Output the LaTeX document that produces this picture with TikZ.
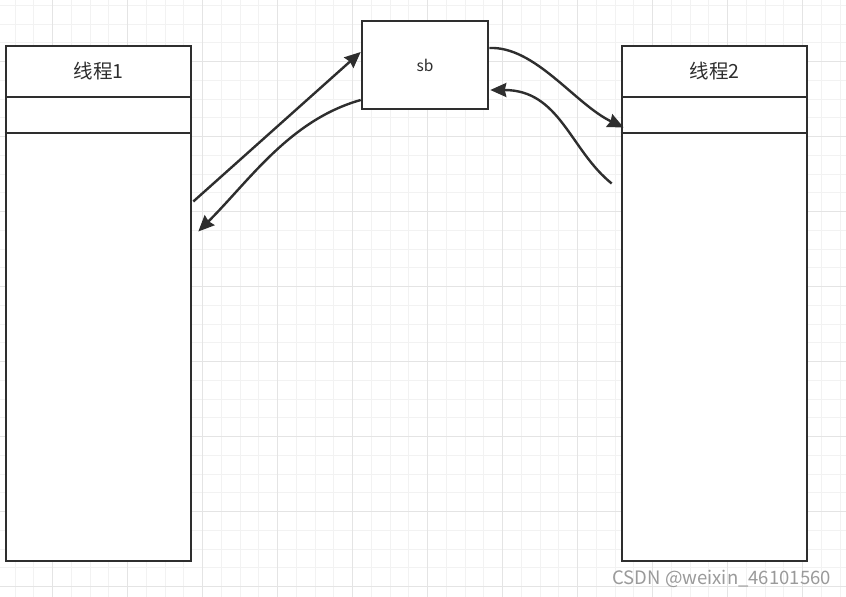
\documentclass[tikz,border=0pt]{standalone}
\usepackage{fontspec}
\newfontfamily\cjk{Noto Sans CJK SC}
\usetikzlibrary{arrows.meta,calc}
\definecolor{ink}{HTML}{2E2E2E}
\definecolor{gridminor}{HTML}{F2F2F2}
\definecolor{gridmajor}{HTML}{E4E4E4}
\definecolor{wm}{HTML}{9A9A9A}
\tikzset{
  thread/.style={draw=ink, line width=2.6pt, fill=white, minimum width=185pt, minimum height=515pt, inner sep=0pt},
  headrow/.style={draw=ink, line width=2.6pt, minimum width=185pt, minimum height=51pt, inner sep=0pt, font=\cjk\fontsize{19.5}{22}\selectfont, text=ink},
  sbbox/.style={draw=ink, line width=2.6pt, fill=white, minimum width=126pt, minimum height=88pt, inner sep=0pt, font=\cjk\fontsize{15.5}{18}\selectfont, text=ink},
  conn/.style={draw=ink, line width=2.4pt, -{Stealth[length=16pt,width=14pt,inset=1.5pt]}},
}
\begin{document}
\begin{tikzpicture}[x=1pt,y=-1pt]
\useasboundingbox (0,0) rectangle (846,597);
\fill[white] (0,0) rectangle (846,597);
% grid
\foreach \i in {0,...,44} {
  \draw[gridminor, line width=1pt] ({15.2+18.75*\i},0) -- ({15.2+18.75*\i},597);
}
\foreach \i in {0,...,31} {
  \draw[gridminor, line width=1pt] (0,{5.45+18.75*\i}) -- (846,{5.45+18.75*\i});
}
\foreach \i in {0,...,10} {
  \draw[gridmajor, line width=1pt] ({52.7+75*\i},0) -- ({52.7+75*\i},597);
}
\foreach \i in {0,...,7} {
  \draw[gridmajor, line width=1pt] (0,{61.7+75*\i}) -- (846,{61.7+75*\i});
}
% thread 1
\node[thread] (t1) at (98.5,303.5) {};
\node[headrow] (h1) at (98.5,71.5) {线程1};
\draw[ink, line width=2.6pt] ($(t1.west)+(0,-170.5)$) coordinate (l1a) -- ($(t1.east)+(0,-170.5)$) coordinate (l1b);
% thread 2
\node[thread] (t2) at (714.5,303.5) {};
\node[headrow] (h2) at (714.5,71.5) {线程2};
\draw[ink, line width=2.6pt] ($(t2.west)+(0,-170.5)$) coordinate (l2a) -- ($(t2.east)+(0,-170.5)$) coordinate (l2b);
% sb
\node[sbbox] (sb) at (425,65) {sb};
% connector endpoints
\coordinate (p1s) at ($(t1.east)+(1,-102)$);
\coordinate (p1e) at ($(sb.west)+(0,-13)$);
\coordinate (p2s) at ($(sb.west)+(0,35)$);
\coordinate (p2e) at ($(t1.east)+(6,-72)$);
\coordinate (p3s) at ($(sb.east)+(0,-17)$);
\coordinate (p3e) at ($(t2.west)+(3,-176)$);
\coordinate (p4s) at ($(t2.west)+(-9,-120)$);
\coordinate (p4e) at ($(sb.east)+(1,25)$);
% connectors
\draw[conn] (p1s) -- (p1e);
\draw[conn] (p2s) .. controls (290,120) and (250,180) .. (p2e);
\draw[conn] (p3s) .. controls (535,46) and (575,104) .. (p3e);
\draw[conn] (p4s) .. controls (570,150) and (560,90) .. (p4e);
% watermark
\node[font=\cjk\fontsize{18.5}{22}\selectfont, text=wm, anchor=east, inner sep=0pt] (wmk) at (831,579) {CSDN @weixin\_46101560};
\end{tikzpicture}
\end{document}
